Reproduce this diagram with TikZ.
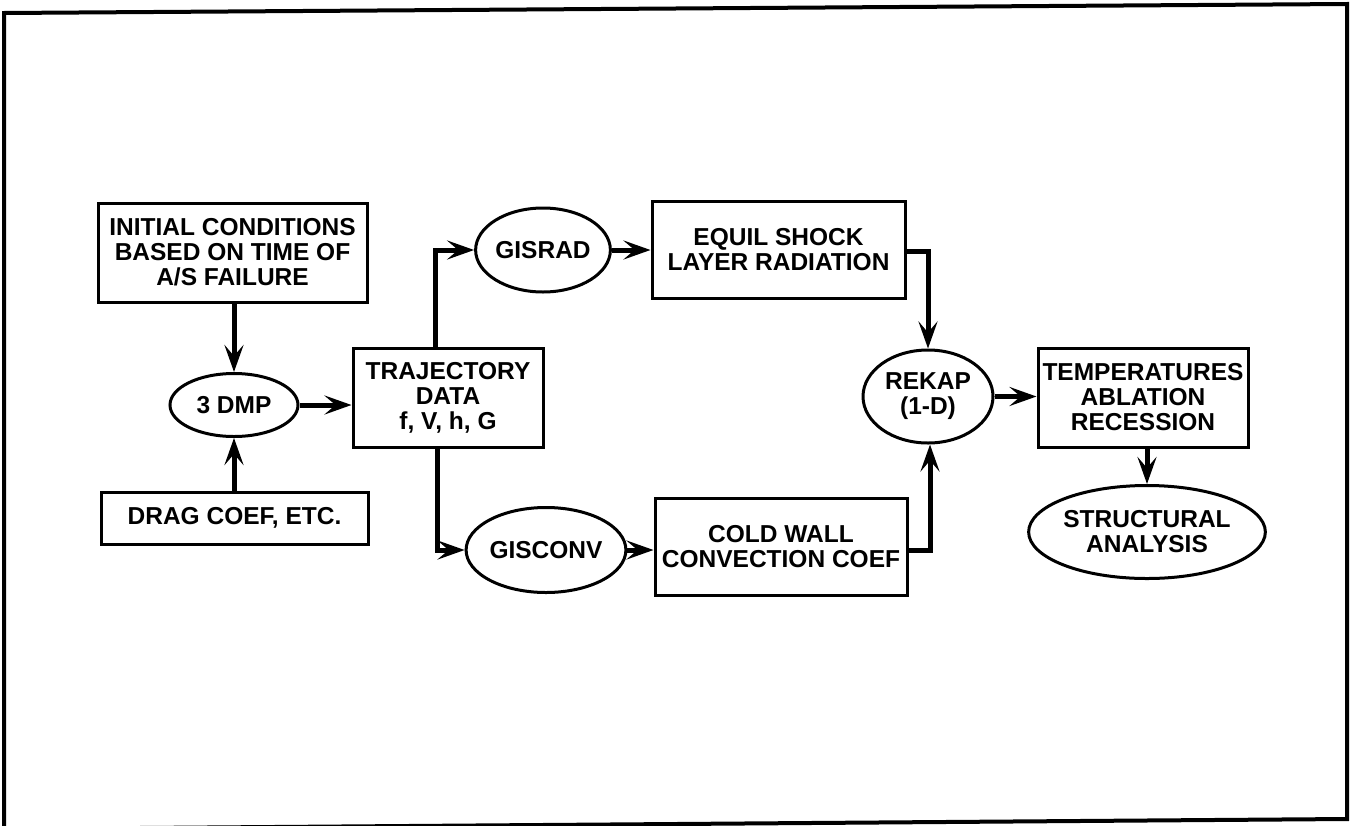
\documentclass[tikz,border=0pt]{standalone}
\usepackage{fontspec}
\setmainfont{Liberation Sans}
\usetikzlibrary{shapes.geometric,arrows.meta}
\begin{document}
\begin{tikzpicture}[x=1pt,y=-1pt,
  every node/.style={font=\fontsize{24.5}{25}\selectfont\bfseries, align=center, inner sep=0pt},
  box/.style={draw, line width=3pt, rectangle},
  oval/.style={draw, line width=3pt, ellipse},
  arr/.style={line width=5pt, -{Stealth[length=27pt,width=19pt,inset=11pt]}}
]
\useasboundingbox (0,0) rectangle (1351,825);
\draw[line width=4pt] (4,13) -- (1347,4) -- (1347,819) -- (4,829) -- cycle;

\node[box, minimum width=269pt, minimum height=99pt] (init) at (232.5,252.5)
  {\fontsize{24.5}{22}\selectfont INITIAL CONDITIONS\\BASED ON TIME OF\\A/S FAILURE};
\node[oval, minimum width=128pt, minimum height=63pt] (dmp) at (234,405) {3 DMP};
\node[box, minimum width=267pt, minimum height=52pt] (drag) at (234.5,518) {DRAG COEF, ETC.};
\node[box, minimum width=190pt, minimum height=99pt] (traj) at (448,397.5)
  {TRAJECTORY\\DATA\\f, V, h, G};
\node[oval, minimum width=130pt, minimum height=84pt] (gisrad) at (543,250) {GISRAD};
\node[box, minimum width=253pt, minimum height=97pt] (equil) at (778.5,249.5)
  {EQUIL SHOCK\\LAYER RADIATION};
\node[oval, minimum width=128pt, minimum height=85pt] (gisconv) at (546,550) {GISCONV};
\node[box, minimum width=252pt, minimum height=97pt] (cold) at (781,546.5)
  {COLD WALL\\CONVECTION COEF};
\node[oval, minimum width=130pt, minimum height=93pt] (rekap) at (928,396.5) {REKAP\\(1-D)};
\node[box, minimum width=210pt, minimum height=99pt] (temp) at (1143,397.5)
  {TEMPERATURES\\ABLATION\\RECESSION};
\node[oval, minimum width=205pt, minimum height=93pt] (struct) at (1147,532)
  {STRUCTURAL\\ANALYSIS};

\draw[arr] (init.south -| dmp.north) -- (dmp.north);
\draw[arr] (drag.north -| dmp.south) -- (dmp.south);
\draw[arr] (dmp.east) -- (dmp.east -| traj.west);
\draw[arr] ([xshift=-13pt]traj.north) |- (gisrad.west);
\draw[arr] ([xshift=-11pt]traj.south) |- (gisconv.west);
\draw[arr] (gisrad.east) -- (gisrad.east -| equil.west);
\draw[arr] (gisconv.east) -- (gisconv.east -| cold.west);
\draw[arr] ([yshift=-2pt]equil.east) -| (rekap.north);
\draw[arr] ([yshift=-4pt]cold.east) -| ([xshift=2pt]rekap.south);
\draw[arr] (rekap.east) -- (rekap.east -| temp.west);
\draw[arr] (struct.north |- temp.south) -- (struct.north);
\end{tikzpicture}
\end{document}
